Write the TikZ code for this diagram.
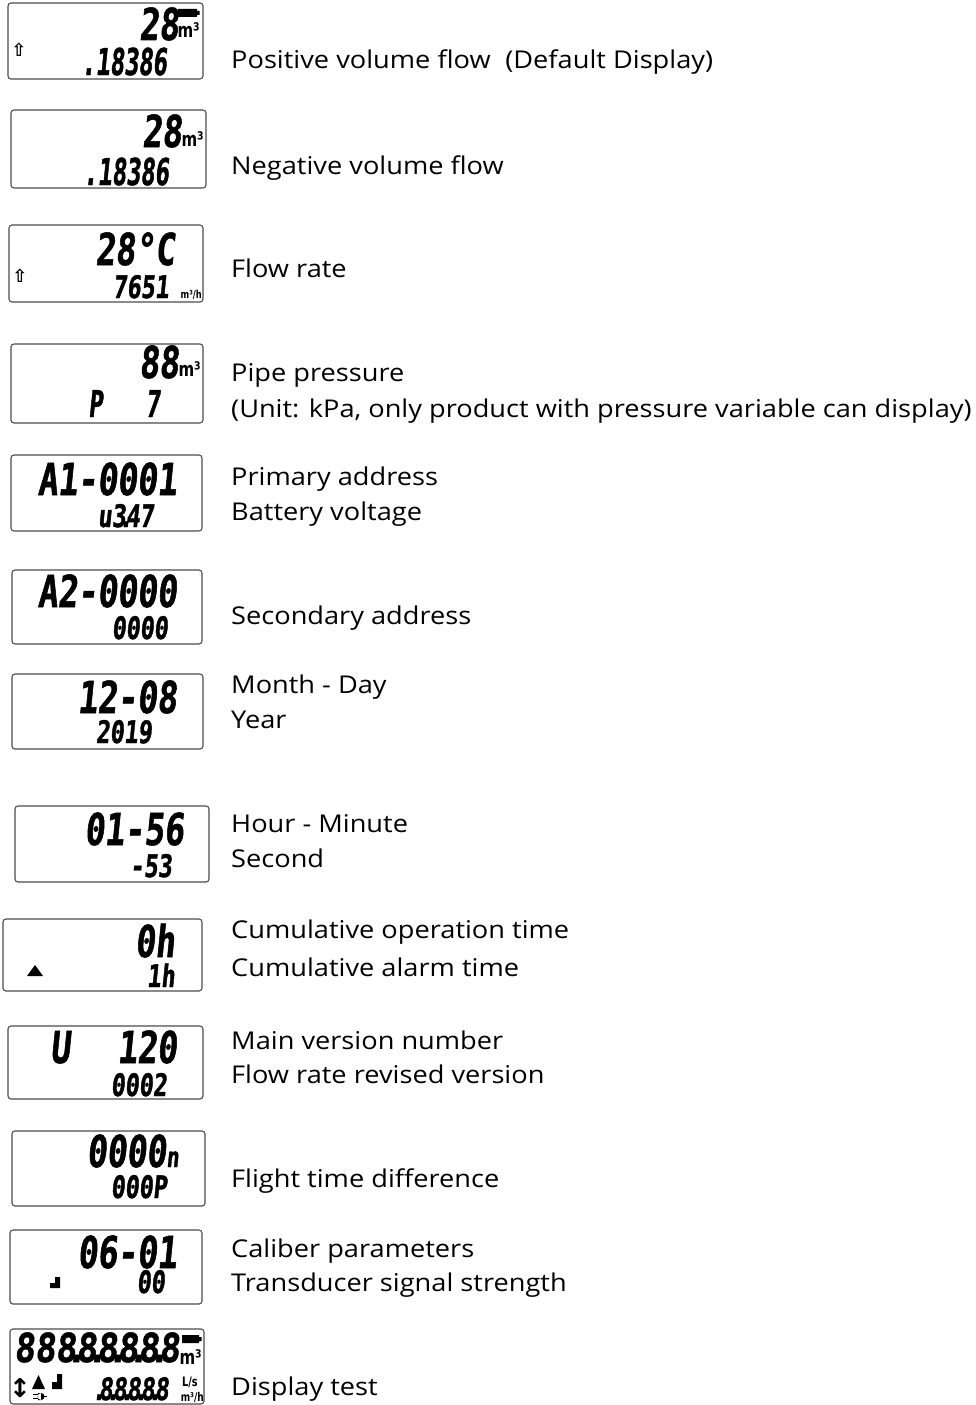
\documentclass[tikz,border=0pt]{standalone}
\usepackage{fontspec}
\setmainfont{Open Sans}[FakeStretch=1.11]
\newfontfamily\lcdA{DejaVu Sans Mono}[FakeStretch=0.75,FakeSlant=0.1,FakeBold=1.2]
\newfontfamily\lcdB{DejaVu Sans Mono}[FakeStretch=0.64,FakeSlant=0.1,FakeBold=1.2]
\newfontfamily\lcdC{DejaVu Sans Mono}[FakeStretch=0.86,FakeSlant=0.1,FakeBold=1.2]
\newfontfamily\unitf{DejaVu Sans}[FakeStretch=0.75]
\newfontfamily\symf{DejaVu Sans}
\newcommand\lcddot{\makebox[0pt]{.}}

\begin{document}
\begin{tikzpicture}[x=1pt,y=-1pt,
  lcd/.style={draw=black!70,line width=1.1pt,rounded corners=3pt,inner sep=0},
  big/.style={font=\lcdA\bfseries\fontsize{44}{44}\selectfont,inner sep=0,anchor=base east},
  mid/.style={font=\lcdB\bfseries\fontsize{37}{37}\selectfont,inner sep=0,anchor=base east},
  sml/.style={font=\lcdA\bfseries\fontsize{31}{31}\selectfont,inner sep=0,anchor=base east},
  unit/.style={font=\unitf\bfseries\fontsize{20}{20}\selectfont,inner sep=0,anchor=base east},
  tiny/.style={font=\unitf\bfseries\fontsize{11}{11}\selectfont,inner sep=0,anchor=base east},
  arr/.style={font=\symf\bfseries\fontsize{18}{18}\selectfont,inner sep=0},
  lbl/.style={font=\fontsize{24.5}{36}\selectfont,inner sep=0,anchor=base west}]
\useasboundingbox (0,0) rectangle (975,1405);

% positive volume flow
\node[lcd,minimum width=195,minimum height=76] (d1) at (105.5,41) {};
\node[big] (d1a) at (179,40) {28};
\node[unit] (d1u) at (200,38) {m³};
\node[arr] (d1r) at (19,50) {⇧};
\fill (178,9) rectangle (197,17) (197,11) rectangle (199.5,15);
\node[mid] (d1b) at (167,75) {.18386};
\node[lbl] (l1) at (231,69) {Positive volume flow\hspace{0.6em}(Default Display)};

% negative volume flow
\node[lcd,minimum width=195,minimum height=78] (d2) at (108.5,149) {};
\node[big] (d2a) at (182,147) {28};
\node[unit] (d2u) at (204,146) {m³};
\node[mid] (d2b) at (169,185) {.18386};
\node[lbl] (l2) at (231,174) {Negative volume flow};

% flow rate
\node[lcd,minimum width=194,minimum height=77] (d3) at (106,263.5) {};
\node[big] (d3a) at (175,265) {28°C};
\node[arr] (d3r) at (20,276) {⇧};
\node[sml] (d3b) at (169,298) {7651};
\node[tiny] (d3u) at (202,298) {m³/h};
\node[lbl] (l3) at (231,277) {Flow rate};

% pipe pressure
\node[lcd,minimum width=192,minimum height=79] (d4) at (107,383.5) {};
\node[big] (d4a) at (179,378) {88};
\node[unit] (d4u) at (201,376) {m³};
\node[mid,anchor=base west] (d4p) at (88,417) {P};
\node[mid] (d4b) at (160,417) {7};
\node[lbl] (l4) at (231,381) {Pipe pressure};
\node[lbl] (l4b) at (231,417) {(Unit: kPa, only product with pressure variable can display)};

% addresses
\node[lcd,minimum width=191,minimum height=76] (d5) at (106.5,493) {};
\node[big] (d5a) at (177,495) {A1-0001};
\node[sml] (d5b) at (154,527) {u3\lcddot47};
\node[lbl] (l5) at (231,485) {Primary address};
\node[lbl] (l5b) at (231,520) {Battery voltage};

\node[lcd,minimum width=190,minimum height=74] (d6) at (107,607) {};
\node[big] (d6a) at (177,607) {A2-0000};
\node[sml] (d6b) at (168,639) {0000};
\node[lbl] (l6) at (231,624) {Secondary address};

% date and time
\node[lcd,minimum width=191,minimum height=75] (d7) at (107.5,711.5) {};
\node[big] (d7a) at (177,713) {12-08};
\node[sml] (d7b) at (152,743) {2019};
\node[lbl] (l7) at (231,693) {Month - Day};
\node[lbl] (l7b) at (231,728) {Year};

\node[lcd,minimum width=194,minimum height=76] (d8) at (112,844) {};
\node[big] (d8a) at (184,845) {01-56};
\node[sml] (d8b) at (172,877) {-53};
\node[lbl] (l8) at (231,832) {Hour - Minute};
\node[lbl] (l8b) at (231,867) {Second};

% operation and alarm time
\node[lcd,minimum width=199,minimum height=72] (d9) at (102.5,955) {};
\node[big] (d9a) at (175,957) {0h};
\fill (27,976) -- (35,965) -- (43,976) -- cycle;
\node[sml] (d9b) at (175,987) {1h};
\node[lbl] (l9) at (231,938) {Cumulative operation time};
\node[lbl] (l9b) at (231,976) {Cumulative alarm time};

% versions
\node[lcd,minimum width=195,minimum height=73] (d10) at (105.5,1062.5) {};
\node[big,anchor=base west] (d10u) at (50,1063) {U};
\node[big] (d10a) at (177,1063) {120};
\node[sml] (d10b) at (167,1096) {0002};
\node[lbl] (l10) at (231,1049) {Main version number};
\node[lbl] (l10b) at (231,1083) {Flow rate revised version};

% flight time
\node[lcd,minimum width=193,minimum height=75] (d11) at (108.5,1168.5) {};
\node[big] (d11a) at (179,1167) {0000{\fontsize{28}{28}\selectfont n}};
\node[sml] (d11b) at (167,1198) {000P};
\node[lbl] (l11) at (231,1187) {Flight time difference};

% caliber and signal
\node[lcd,minimum width=192,minimum height=74] (d12) at (106,1267) {};
\node[big] (d12a) at (177,1268) {06-01};
\fill (50,1283) rectangle (55,1288) (55,1277) rectangle (60,1288);
\node[sml] (d12b) at (165,1293) {00};
\node[lbl] (l12) at (231,1257) {Caliber parameters};
\node[lbl] (l12b) at (231,1291) {Transducer signal strength};

% display test
\node[lcd,minimum width=194,minimum height=75] (d13) at (107,1366.5) {};
\node[big,font=\lcdC\bfseries\fontsize{40}{40}\selectfont] (d13a) at (180,1362) {888\lcddot8\lcddot8\lcddot8\lcddot8\lcddot8};
\fill (182,1335) rectangle (199,1343) (199,1337) rectangle (201.5,1341);
\node[unit] (d13u) at (202,1364) {m³};
\node[arr,font=\symf\bfseries\fontsize{26}{26}\selectfont] (d13r) at (20,1388) {↕};
\fill (32,1389) -- (38.5,1375) -- (45,1389) -- cycle;
\fill (52,1382) rectangle (57,1389) (57,1374) rectangle (62,1389);
\fill (38,1393) rectangle (41,1400) (41,1396.5) circle (3.5);
\draw[line width=1.2pt] (33,1394.5) -- (38,1394.5) (33,1398.5) -- (38,1398.5) (44,1396.5) -- (47,1396.5);
\node[sml] (d13b) at (169,1400) {\lcddot8\lcddot8\lcddot8\lcddot8\lcddot8};
\node[tiny,font=\unitf\bfseries\fontsize{13}{13}\selectfont] (d13l) at (198,1386) {L/s};
\node[tiny,font=\unitf\bfseries\fontsize{12}{12}\selectfont] (d13h) at (204,1401) {m³/h};
\node[lbl] (l13) at (231,1395) {Display test};
\end{tikzpicture}
\end{document}
